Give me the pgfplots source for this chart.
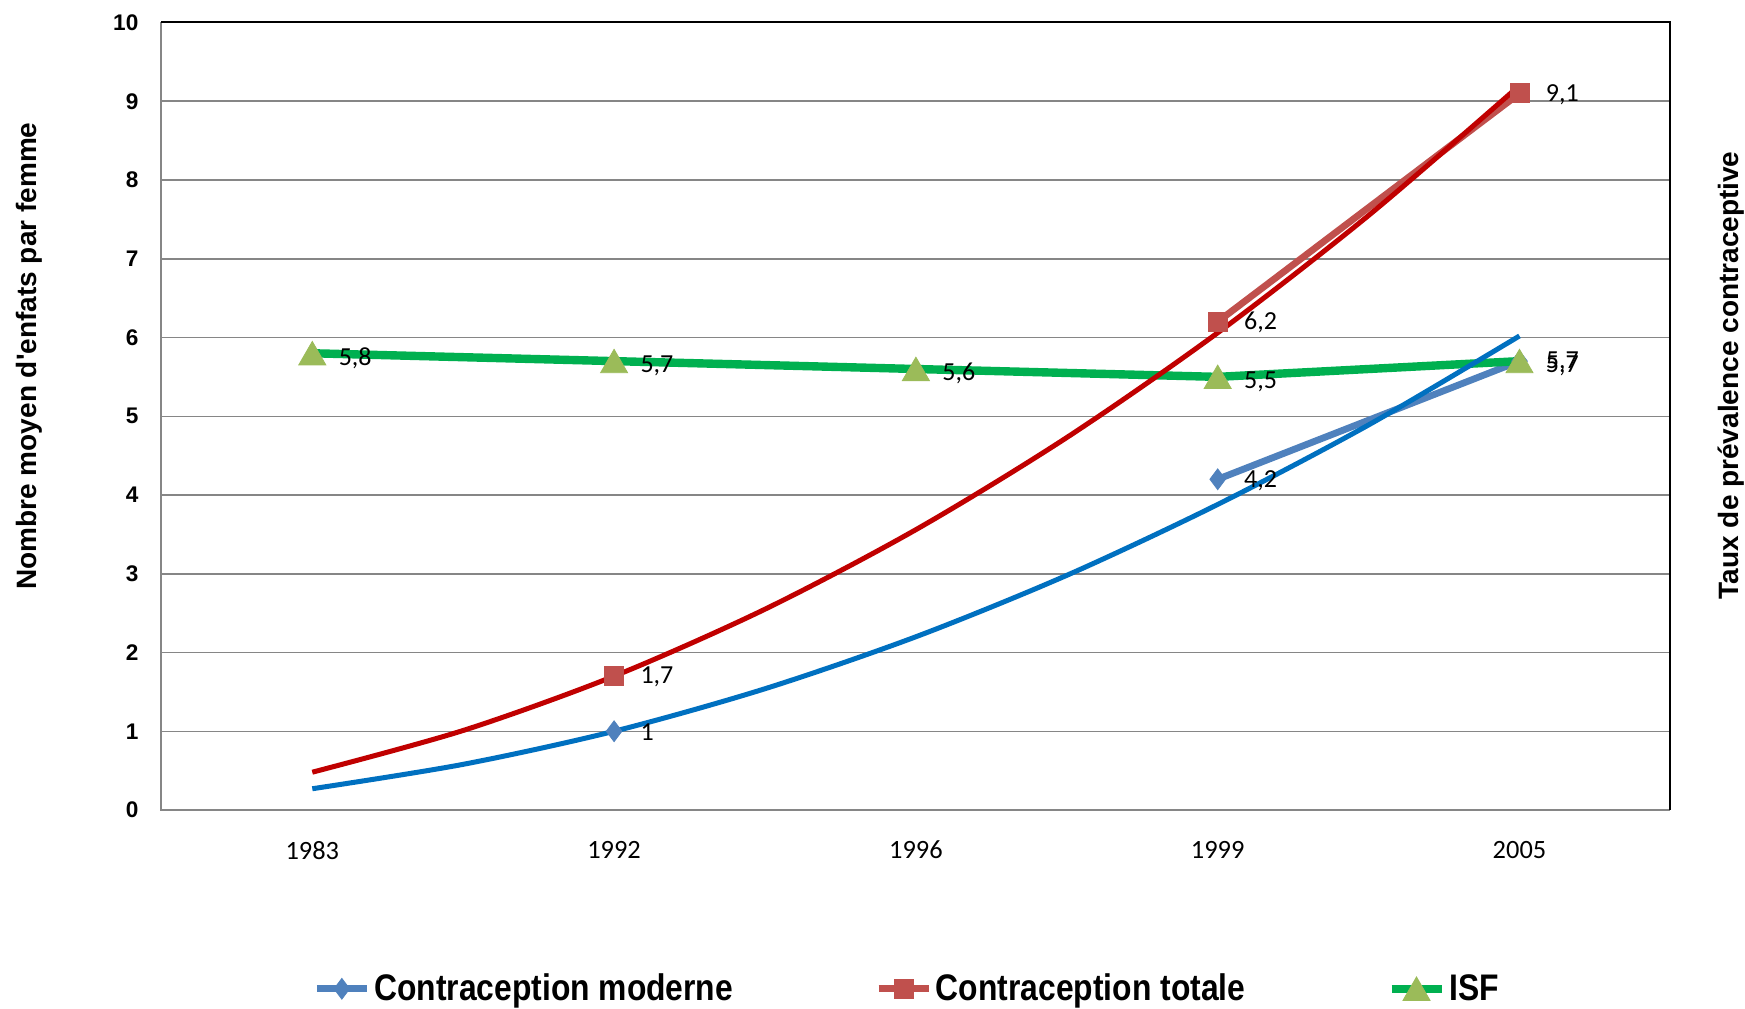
\documentclass[border=0pt]{standalone}
\usepackage{fontspec}
\setmainfont{Liberation Sans}
\newfontfamily\carlito{Carlito}
\newfontfamily\legfont[FakeStretch=0.86]{Liberation Sans}
\usepackage{pgfplots}
\pgfplotsset{compat=1.18}

\definecolor{gridgray}{RGB}{134,134,134}
\definecolor{modblue}{RGB}{79,129,189}
\definecolor{totred}{RGB}{192,80,77}
\definecolor{isfgreen}{RGB}{0,176,80}
\definecolor{isfmark}{RGB}{155,187,89}
\definecolor{trendblue}{RGB}{0,112,192}
\definecolor{trendred}{RGB}{192,0,0}

\begin{document}
\begin{tikzpicture}
\useasboundingbox (-80.7pt,-99pt) rectangle (791.8pt,405pt);
\begin{axis}[
  scale only axis, width=754.5pt, height=393.75pt,
  clip=false,
  xmin=-0.5, xmax=4.5, ymin=0, ymax=10,
  xtick={0,1,2,3,4}, xticklabels={1983,1992,1996,1999,2005},
  ytick={0,1,...,10},
  major tick length=0pt,
  ymajorgrids, grid style={line width=0.75pt, color=gridgray},
  axis line style={draw=none},
  xticklabel style={font=\carlito\fontsize{13.2}{15}\selectfont, yshift=-12pt},
  yticklabel style={font=\bfseries\fontsize{11.3}{13}\selectfont, xshift=-8pt},
  /pgf/number format/.cd, use comma, assume math mode=true, /pgfplots/.cd,
  ylabel={Nombre moyen d\textquotesingle enfats par femme},
  ylabel style={font=\bfseries\fontsize{14}{16}\selectfont,
    at={(axis description cs:-0.0877,0.5765)}, anchor=center},
  unbounded coords=jump,
  legend columns=3,
  legend style={at={(axis description cs:0.1005,-0.227)}, anchor=west,
    draw=none, fill=none, inner sep=0pt,
    font=\legfont\bfseries\fontsize{18.5}{20}\selectfont,
    /tikz/every even column/.append style={column sep=69pt}},
  legend image code/.code={\draw[mark repeat=2, mark phase=2]
    plot coordinates {(0pt,0pt) (12.5pt,0pt) (25pt,0pt)};},
  every node near coord/.append style={anchor=west, xshift=9.7pt, yshift=-0.5pt,
    text=black, font=\carlito\fontsize{13}{15}\selectfont},
]

% Contraception moderne (no survey value for 1983 and 1996)
\addplot[color=modblue, line width=3.4pt, mark=diamond*, mark size=5.2pt,
  mark options={line width=0.4pt, fill=modblue}, nodes near coords]
  coordinates {(0,nan) (1,1) (2,nan) (3,4.2) (4,5.7)};
\addlegendentry{Contraception moderne}

% Contraception totale
\addplot[color=totred, line width=3.4pt, mark=square*, mark size=4.75pt,
  mark options={line width=0.4pt, fill=totred}, nodes near coords]
  coordinates {(0,nan) (1,1.7) (2,nan) (3,6.2) (4,9.1)};
\addlegendentry{Contraception totale}

% ISF
\addplot[color=isfgreen, line width=4.2pt, mark=triangle*, mark size=7.8pt,
  mark options={line width=0.4pt, draw=isfmark, fill=isfmark, yshift=-1.9pt},
  nodes near coords]
  coordinates {(0,5.8) (1,5.7) (2,5.6) (3,5.5) (4,5.7)};
\addlegendentry{ISF}

% Trend curves
\addplot[forget plot, color=trendblue, line width=2.5pt, smooth]
  coordinates {(0,0.27) (0.5,0.58) (1,1.00) (1.5,1.54) (2,2.20) (2.5,2.98) (3,3.88) (3.5,4.89) (4,6.02)};
\addplot[forget plot, color=trendred, line width=2.5pt, smooth]
  coordinates {(0,0.48) (0.5,1.01) (1,1.70) (1.5,2.55) (2,3.56) (2.5,4.73) (3,6.06) (3.5,7.55) (4,9.20)};

% Frame
\draw[gridgray, line width=1pt] (rel axis cs:0,1) -- (rel axis cs:0,0) -- (rel axis cs:1,0);
\draw[black, line width=1pt] (rel axis cs:0,1) -- (rel axis cs:1,1) -- (rel axis cs:1,0);

\node[rotate=90, font=\bfseries\fontsize{14}{16}\selectfont]
  at (rel axis cs:1.040,0.552) {Taux de prévalence contraceptive};
\end{axis}
\end{tikzpicture}
\end{document}
